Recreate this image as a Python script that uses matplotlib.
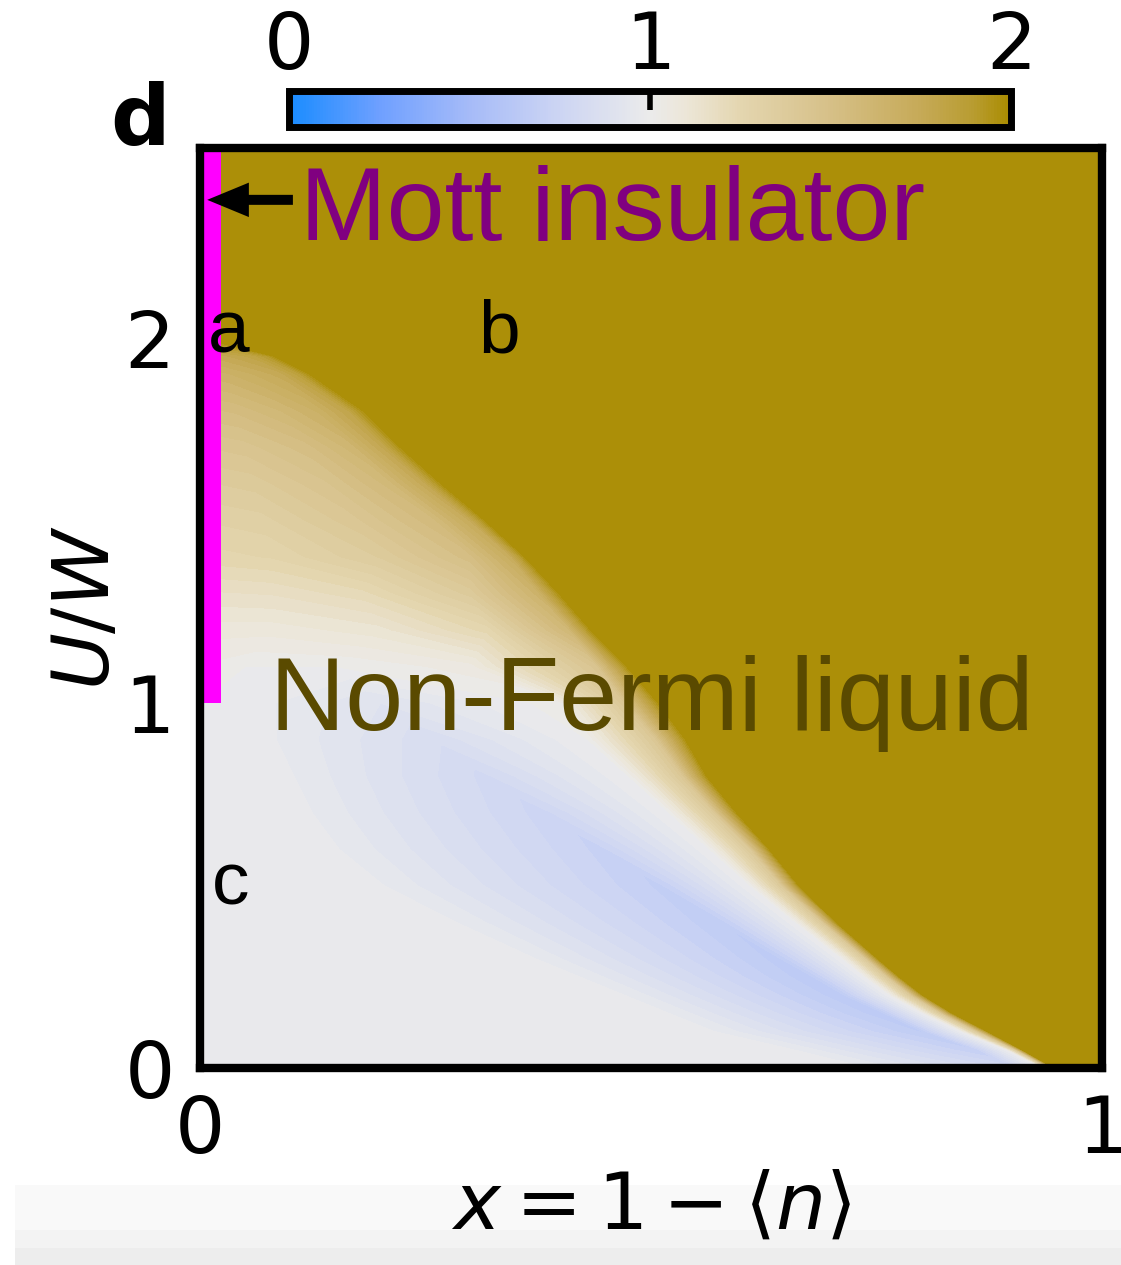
import numpy as np
import matplotlib
matplotlib.use('Agg')
import matplotlib.pyplot as plt
from matplotlib.colors import LinearSegmentedColormap, Normalize
from matplotlib.cm import ScalarMappable
from matplotlib.patches import Rectangle

plt.rcParams['mathtext.fontset'] = 'dejavusans'

# exponent map, row by row (U/W), with a few x nodes per row
u_rows = [0.00, 0.05, 0.10, 0.15, 0.20, 0.25, 0.30, 0.40, 0.50, 0.60, 0.70, 0.80, 0.90, 1.00,
          1.10, 1.20, 1.30, 1.40, 1.50, 1.60, 1.70, 1.80, 1.90, 1.95, 1.985, 2.00, 2.52]
v_left = [1.00, 1.00, 1.00, 1.00, 1.00, 1.00, 1.00, 1.00, 1.00, 1.00, 1.00, 1.00, 1.00, 1.00,
          1.03, 1.08, 1.16, 1.25, 1.30, 1.36, 1.43, 1.52, 1.64, 1.74, 1.90, 2.00, 2.00]
x_onset = [0.72, 0.64, 0.56, 0.51, 0.46, 0.41, 0.36, 0.27, 0.20, 0.15, 0.12, 0.10, 0.08, 0.06,
           0.05, 0.08, 0.08, 0.08, 0.07, 0.06, 0.05, 0.04, 0.03, 0.02, 0.005, 0.01, 0.01]
v_onset = [0.99, 0.99, 0.98, 0.98, 0.98, 0.98, 0.98, 0.98, 0.97, 0.97, 0.97, 0.97, 0.97, 0.98,
           1.00, 1.08, 1.17, 1.27, 1.32, 1.38, 1.45, 1.54, 1.66, 1.75, 1.90, 2.00, 2.00]
x_dip = [0.905, 0.86, 0.80, 0.755, 0.71, 0.675, 0.64, 0.575, 0.51, 0.445, 0.38, 0.315, 0.26, 0.20,
         0.15, 0.20, 0.18, 0.20, 0.17, 0.14, 0.12, 0.09, 0.06, 0.04, 0.01, 0.02, 0.02]
v_dip = [0.78, 0.70, 0.66, 0.64, 0.64, 0.64, 0.65, 0.67, 0.69, 0.72, 0.75, 0.79, 0.84, 0.90,
         1.00, 1.12, 1.22, 1.37, 1.42, 1.46, 1.52, 1.60, 1.70, 1.78, 1.92, 2.00, 2.00]
x_white = [0.935, 0.895, 0.845, 0.802, 0.765, 0.737, 0.712, 0.66, 0.61, 0.565, 0.52, 0.475, 0.43, 0.40,
           0.30, 0.32, 0.30, 0.30, 0.26, 0.21, 0.17, 0.13, 0.09, 0.06, 0.018, 0.03, 0.03]
v_white = [1.00, 1.00, 1.00, 1.00, 1.00, 1.00, 1.00, 1.00, 1.00, 1.00, 1.00, 1.00, 1.00, 1.02,
           1.05, 1.25, 1.38, 1.52, 1.56, 1.58, 1.62, 1.67, 1.75, 1.82, 1.94, 2.00, 2.00]
x_tan = [0.942, 0.905, 0.862, 0.822, 0.788, 0.762, 0.738, 0.69, 0.645, 0.61, 0.57, 0.535, 0.505, 0.47,
         0.44, 0.41, 0.375, 0.345, 0.30, 0.25, 0.205, 0.165, 0.11, 0.075, 0.024, 0.035, 0.035]
v_tan = [1.40, 1.40, 1.40, 1.40, 1.40, 1.40, 1.40, 1.40, 1.40, 1.40, 1.40, 1.42, 1.42, 1.42,
         1.45, 1.60, 1.65, 1.72, 1.74, 1.76, 1.78, 1.80, 1.85, 1.90, 1.97, 2.00, 2.00]
x_gold = [0.948, 0.912, 0.874, 0.835, 0.802, 0.776, 0.752, 0.706, 0.665, 0.632, 0.596, 0.563, 0.54, 0.51,
          0.475, 0.435, 0.40, 0.362, 0.318, 0.27, 0.225, 0.184, 0.125, 0.085, 0.03, 0.04, 0.04]

mott_u = [1.0, 2.52]
arrow_u = 2.378
arrow_x = [0.103, 0.008]

cmap = LinearSegmentedColormap.from_list('fl', [
    (0.0, '#1a8cff'), (0.125, '#6fa0ff'), (0.25, '#a6bbf8'), (0.375, '#cdd5f3'),
    (0.5, '#ebebeb'), (0.55, '#ece6d8'), (0.625, '#e4d6b0'), (0.75, '#d6c088'),
    (0.875, '#c6aa58'), (0.95, '#b89c30'), (1.0, '#aa8c00')])

n = len(u_rows)
X = np.column_stack([np.zeros(n), x_onset, x_dip, x_white, x_tan, x_gold, np.ones(n)])
Z = np.column_stack([v_left, v_onset, v_dip, v_white, v_tan, np.full(n, 2.0), np.full(n, 2.0)])
Y = np.repeat(np.array(u_rows)[:, None], X.shape[1], axis=1)

fig = plt.figure(figsize=(11.21, 12.65), dpi=100)
ax = fig.add_axes([0.1784, 0.1557, 0.8047, 0.7273])
ax.contourf(X, Y, Z, levels=np.linspace(0, 2.0, 61), cmap=cmap, vmin=0, vmax=2)
ax.set_xlim(0, 1)
ax.set_ylim(0, 2.52)

# Mott insulator line at x = 0
ax.fill_betweenx(mott_u, 0, 0.0235, color='#ff00ff', lw=0, zorder=3)
ax.annotate('', xy=(arrow_x[1], arrow_u), xytext=(arrow_x[0], arrow_u),
            arrowprops=dict(arrowstyle='simple,head_length=0.75,head_width=0.62,tail_width=0.18',
                            mutation_scale=40, color='k', lw=0, shrinkA=0, shrinkB=0), zorder=4)

tf = 'Liberation Sans'
ax.text(0.111, 2.268, 'Mott insulator', color='#800080', fontsize=75, family=tf, zorder=5)
ax.text(0.078, 0.926, 'Non-Fermi liquid', color='#5a4a00', fontsize=75, family=tf, zorder=5)
ax.text(0.009, 1.96, 'a', fontsize=54, family=tf, zorder=5)
ax.text(0.308, 1.96, 'b', fontsize=54, family=tf, zorder=5)
ax.text(0.013, 0.447, 'c', fontsize=54, family=tf, zorder=5)

for s in ax.spines.values():
    s.set_linewidth(6)
    s.set_zorder(6)
ax.set_xticks([0, 1])
ax.set_yticks([0, 1, 2])
ax.tick_params(length=0, labelsize=57, pad=18)
ax.set_xlabel(r'$x = 1 - \langle n \rangle$', fontsize=57, labelpad=0)
ax.set_ylabel(r'$U/W$', fontsize=56)
ax.yaxis.set_label_coords(-0.083, 0.5)

# colorbar on top
cax = fig.add_axes([0.2578, 0.8996, 0.644, 0.0285])
cb = fig.colorbar(ScalarMappable(norm=Normalize(0, 2), cmap=cmap), cax=cax,
                  orientation='horizontal', ticklocation='top')
cb.set_ticks([0, 1, 2])
cb.outline.set_linewidth(5)
cax.tick_params(direction='in', length=14, width=4, labelsize=57, pad=4)

fig.text(0.098, 0.885, 'd', fontsize=60, fontweight='bold', ha='left', va='baseline')

# faint grey strip at the bottom edge of the picture
for y0, c in [(0.0632, '#f9f9f9'), (0.0277, '#f3f3f3'), (0.0134, '#ededed')]:
    fig.patches.append(Rectangle((0.0134, 0), 1, y0, transform=fig.transFigure,
                                 color=c, lw=0, zorder=-1))

fig.savefig('out.png', dpi=100)
